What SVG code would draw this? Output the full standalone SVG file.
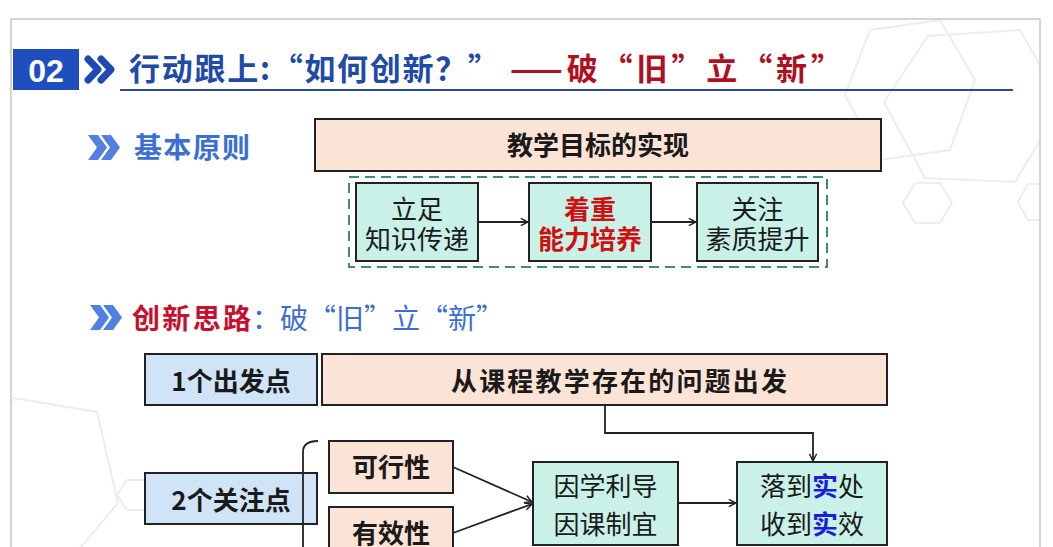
<svg xmlns="http://www.w3.org/2000/svg" width="1053" height="547" viewBox="0 0 1053 547">
<style>
.cjk{font-family:"Noto Sans CJK SC","Noto Sans",sans-serif}
.b{font-weight:bold}
.box{stroke:#222;stroke-width:2}
.peach{fill:#fbe4d5}
.mint{fill:#c9f1e7}
.blue{fill:#cfe4f7}
.t{font-size:26px;fill:#1a1a1a;text-anchor:middle}
.r{font-size:26px;fill:#1a1a1a;text-anchor:middle}
.conn{stroke:#222;stroke-width:1.8;fill:none}
.hex{fill:none;stroke:#ededed;stroke-width:2}
</style>
<defs>
<marker id="arr" viewBox="0 0 10 10" refX="9" refY="5" markerWidth="9" markerHeight="9" orient="auto" markerUnits="userSpaceOnUse">
<path d="M1,1 L9,5 L1,9" fill="none" stroke="#222" stroke-width="1.6"/>
</marker>
<clipPath id="frameclip"><rect x="11" y="19" width="1029" height="540"/></clipPath>
</defs>
<rect x="0" y="0" width="1053" height="547" fill="#ffffff"/>
<g id="background" clip-path="url(#frameclip)">
<polygon class="hex" points="928,36 1020,30 1062,104 1015,182 925,178 884,102"/>
<polygon class="hex" points="870,30 940,20 975,80 950,150 880,160 845,95"/>
<polygon class="hex" points="915,183 940,183 952,203 940,223 915,223 903,203"/>
<polygon class="hex" points="1028,184 1050,184 1060,202 1050,220 1028,220 1018,202"/>
<polygon class="hex" points="14,398 97,412 118,503 70,560 -20,545 -40,460"/>
<polygon class="hex" points="127,480 150,480 160,495 150,510 127,510 117,495"/>
</g>
<rect id="frame" x="11" y="19" width="1029" height="540" fill="none" stroke="#c6c6c6" stroke-width="1.5"/>

<g id="header">
<rect x="13" y="49" width="66" height="41" fill="#1f4fbf"/>
<text x="46" y="82" font-family="Liberation Sans, Arial, sans-serif" font-weight="bold" font-size="32" fill="#ffffff" text-anchor="middle">02</text>
<path d="M88,59 L98,69.5 L88,80 M101,59 L111,69.5 L101,80" fill="none" stroke="#1f49b6" stroke-width="7" stroke-linecap="round" stroke-linejoin="round"/>
<text class="cjk b" x="129" y="80" font-size="31" fill="#1f4aa8" textLength="370" lengthAdjust="spacing">行动跟上:“如何创新？”</text>
<text class="cjk b" x="510" y="80" font-size="31" fill="#b0101e" textLength="332" lengthAdjust="spacing">——破“旧”立“新”</text>
<line x1="120" y1="90" x2="1013" y2="90" stroke="#2a4a9a" stroke-width="2"/>
</g>

<g id="section1-title">
<polygon points="88,135 98,135 107,147.5 98,160 88,160 97,147.5" fill="#4f80e2"/>
<polygon points="101,135 111,135 120,147.5 111,160 101,160 110,147.5" fill="#4f80e2"/>
<text class="cjk b" x="134" y="158" font-size="28" fill="#3b6fd6" textLength="116" lengthAdjust="spacing">基本原则</text>
</g>

<g id="goal">
<rect class="box peach" x="315" y="119" width="566" height="52"/>
<text class="cjk b t" x="598" y="155" font-size="25">教学目标的实现</text>
</g>

<g id="principles-group">
<rect x="349" y="177" width="478" height="90" fill="none" stroke="#3e8d70" stroke-width="2" stroke-dasharray="10 6"/>
</g>

<g id="p1">
<rect class="box mint" x="356" y="183" width="122" height="78"/>
<text class="cjk r" x="417" y="219">立足</text>
<text class="cjk r" x="417" y="249">知识传递</text>
</g>
<g id="p2">
<rect class="box mint" x="529" y="183" width="122" height="78"/>
<text class="cjk b r" x="590" y="219" style="fill:#d01010">着重</text>
<text class="cjk b r" x="590" y="249" style="fill:#d01010">能力培养</text>
</g>
<g id="p3">
<rect class="box mint" x="697" y="183" width="121" height="78"/>
<text class="cjk r" x="757.5" y="219">关注</text>
<text class="cjk r" x="757.5" y="249">素质提升</text>
</g>

<g id="section2-title">
<polygon points="90,305 100,305 109,317.5 100,330 90,330 99,317.5" fill="#4f80e2"/>
<polygon points="103,305 113,305 122,317.5 113,330 103,330 112,317.5" fill="#4f80e2"/>
<text class="cjk b" x="132" y="329" font-size="28" fill="#c8102e" textLength="119" lengthAdjust="spacing">创新思路</text>
<text class="cjk" x="252" y="329" font-size="28" fill="#3d6fd3" textLength="252" lengthAdjust="spacing">：破“旧”立“新”</text>
</g>

<g id="start-label">
<rect class="box blue" x="145" y="354" width="172" height="51"/>
<text class="cjk b t" x="231" y="391">1个出发点</text>
</g>
<g id="start-content">
<rect class="box peach" x="322" y="354" width="565" height="51"/>
<text class="cjk b t" x="619" y="391" textLength="336" lengthAdjust="spacing">从课程教学存在的问题出发</text>
</g>

<g id="focus-label">
<rect class="box blue" x="145" y="473" width="172" height="51"/>
<text class="cjk b t" x="231" y="510">2个关注点</text>
</g>
<g id="feasibility">
<rect class="box peach" x="329" y="441" width="124" height="52"/>
<text class="cjk b t" x="391" y="477">可行性</text>
</g>
<g id="effectiveness">
<rect class="box peach" x="329" y="507" width="124" height="52"/>
<text class="cjk b t" x="391" y="543">有效性</text>
</g>
<g id="adapt">
<rect class="box mint" x="533" y="462" width="145" height="83"/>
<text class="cjk r" x="605.5" y="496" font-size="25">因学利导</text>
<text class="cjk r" x="605.5" y="534" font-size="25">因课制宜</text>
</g>
<g id="results">
<rect class="box mint" x="737" y="462" width="150" height="83"/>
<text class="cjk r" x="812" y="496" font-size="25">落到<tspan font-weight="bold" fill="#1c1ce0">实</tspan>处</text>
<text class="cjk r" x="812" y="534" font-size="25">收到<tspan font-weight="bold" fill="#1c1ce0">实</tspan>效</text>
</g>

<g id="connectors">
<line class="conn" x1="478" y1="222" x2="528" y2="222" marker-end="url(#arr)"/>
<line class="conn" x1="651" y1="222" x2="696" y2="222" marker-end="url(#arr)"/>
<path class="conn" d="M605,405 V433 H813 V461" marker-end="url(#arr)"/>
<path class="conn" d="M318,441 Q303,441 303,452 V547"/>
<line class="conn" x1="453" y1="467" x2="532" y2="502" marker-end="url(#arr)"/>
<line class="conn" x1="453" y1="533" x2="532" y2="504" marker-end="url(#arr)"/>
<line class="conn" x1="678" y1="503" x2="736" y2="503" marker-end="url(#arr)"/>
</g>
</svg>
